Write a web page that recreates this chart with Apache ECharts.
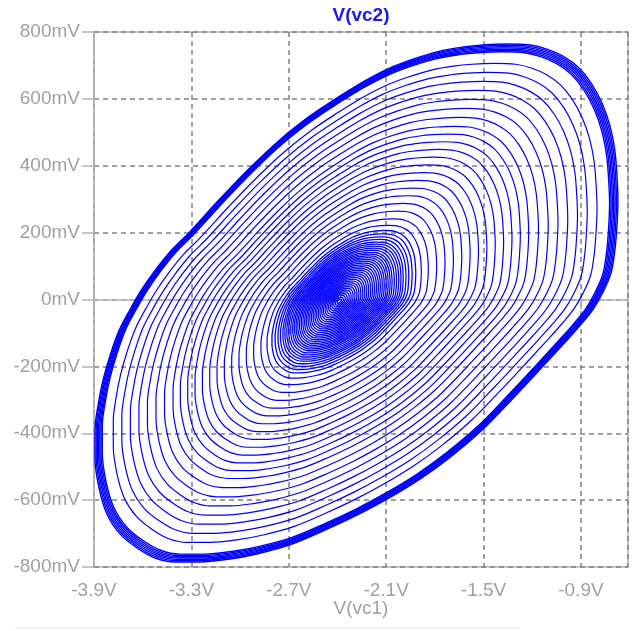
<!DOCTYPE html>
<html><head><meta charset="utf-8">
<script src="https://cdn.jsdelivr.net/npm/echarts@6/dist/echarts.min.js"></script>
<style>html,body{margin:0;padding:0;background:#fff}#c{width:633px;height:631px}</style>
</head><body><div id="c"></div>
<script>
// Outermost (limit-cycle) trajectory of V(vc2) [mV] vs V(vc1) [V]
const outerX = [-2.243, -2.089, -1.935, -1.769, -1.627, -1.504, -1.356, -1.214, -1.110, -1.011, -0.919, -0.838, -0.771, -0.721, -0.691, -0.678, -0.672, -0.678, -0.691, -0.715, -0.765, -0.826, -0.906, -0.992, -1.134, -1.319, -1.510, -1.707, -1.892, -2.095, -2.280, -2.477, -2.693, -2.896, -3.062, -3.247, -3.401, -3.524, -3.635, -3.740, -3.820, -3.869, -3.894, -3.894, -3.875, -3.845, -3.801, -3.746, -3.678, -3.610, -3.524, -3.426, -3.309, -3.124, -2.939, -2.754, -2.569, -2.403];
const outerY = [651, 690, 719, 743, 755, 761, 764, 761, 749, 728, 696, 648, 588, 519, 445, 370, 296, 221, 146, 78, 21, -30, -78, -125, -200, -296, -391, -472, -537, -597, -645, -690, -734, -761, -776, -785, -785, -773, -743, -701, -642, -564, -475, -391, -316, -242, -167, -93, -30, 27, 87, 146, 203, 301, 394, 478, 549, 603];
// Centre of the spiral (dense core)
const spiralCenter = [-2.39, -5];
// Relative size of each turn: converged outer band, separated turns, dense core
const bandScale = [1.0, 0.995, 0.99, 0.985, 0.98, 0.975, 0.97];
const turnScale = [0.925, 0.89, 0.855, 0.82, 0.785, 0.75, 0.715, 0.68, 0.65, 0.62, 0.59, 0.56, 0.53, 0.50, 0.47, 0.44, 0.41, 0.38, 0.35, 0.32, 0.295];
const coreScale = [0.275, 0.262, 0.25, 0.24, 0.23, 0.222, 0.214, 0.206, 0.198, 0.19, 0.183, 0.176, 0.169, 0.162, 0.155, 0.148, 0.141, 0.134, 0.127, 0.12, 0.113, 0.106, 0.099, 0.092, 0.085, 0.078, 0.071, 0.064, 0.057, 0.05, 0.043, 0.036, 0.029, 0.022, 0.015, 0.008];

const xMin = -3.9, xMax = -0.61, xStep = 0.6;
const yMin = -800, yMax = 800, yStep = 200;

const FONT = '"Liberation Sans", Arial, sans-serif';
function ring(s, w) {
  const cx = spiralCenter[0], cy = spiralCenter[1];
  const pts = outerX.map(function (x, i) { return [cx + s * (x - cx), cy + s * (outerY[i] - cy)]; });
  pts.push(pts[0]);
  return {
    type: 'line', data: pts, showSymbol: false, smooth: 0.35, silent: true,
    lineStyle: { color: '#0000ff', width: w }, z: 3
  };
}
const series = [].concat(
  bandScale.map(function (s) { return ring(s, 1.4); }),
  turnScale.map(function (s) { return ring(s, 1.2); }),
  coreScale.map(function (s) { return ring(s, 1.3); })
);

const chart = echarts.init(document.getElementById('c'), null, { renderer: 'canvas' });
chart.setOption({
  animation: false,
  backgroundColor: '#ffffff',
  grid: { left: 94, right: 5, top: 32, bottom: 64, show: true, borderColor: '#b4b4b4', borderWidth: 1.5 },
  xAxis: {
    type: 'value', min: xMin, max: xMax, interval: xStep,
    name: 'V(vc1)', nameLocation: 'middle', nameGap: 32, nameMoveOverlap: false,
    nameTextStyle: { color: '#a0a0a0', fontSize: 19, fontFamily: FONT },
    axisLine: { show: true, lineStyle: { color: '#b4b4b4', width: 1.5 } },
    axisTick: { show: true, length: 10, lineStyle: { color: '#b4b4b4', width: 1.5 } },
    axisLabel: { color: '#a0a0a0', fontSize: 19, fontFamily: FONT, margin: 14, showMaxLabel: false,
      formatter: function (v) { return v.toFixed(1) + 'V'; } },
    splitLine: { show: true, lineStyle: { color: '#808080', type: [5, 4], width: 1.5 } }
  },
  yAxis: {
    type: 'value', min: yMin, max: yMax, interval: yStep,
    axisLine: { show: true, lineStyle: { color: '#b4b4b4', width: 1.5 } },
    axisTick: { show: true, length: 12, lineStyle: { color: '#b4b4b4', width: 1.5 } },
    axisLabel: { color: '#a0a0a0', fontSize: 19, fontFamily: FONT, margin: 14,
      formatter: function (v) { return Math.round(v) + 'mV'; } },
    splitLine: { show: true, lineStyle: { color: '#808080', type: [5, 4], width: 1.5 } }
  },
  graphic: [
    { type: 'text', x: 361, y: 16, style: { text: 'V(vc2)', fill: '#1a1aee', font: 'bold 19px ' + FONT, textAlign: 'center', textVerticalAlign: 'middle' } },
    { type: 'line', shape: { x1: 15, y1: 628, x2: 520, y2: 628 }, style: { stroke: '#e4e4e4', lineWidth: 1 } }
  ],
  series: series
});
</script></body></html>
